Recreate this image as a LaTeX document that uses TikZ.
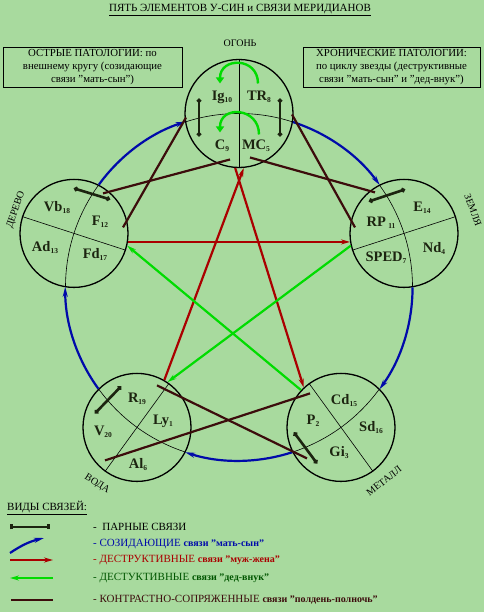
\documentclass[tikz,border=0pt]{standalone}
\usepackage{fontspec}
\setmainfont{Liberation Serif}
\usetikzlibrary{arrows.meta,calc}
\definecolor{bgg}{RGB}{168,218,158}
\definecolor{creat}{RGB}{0,10,170}
\definecolor{destr}{RGB}{170,0,0}
\definecolor{grand}{RGB}{0,220,0}
\definecolor{contr}{RGB}{60,12,12}
\definecolor{pairc}{RGB}{28,36,16}
\definecolor{txtg}{RGB}{0,85,0}
\newcommand\nsub[1]{\raisebox{-2pt}{\fontsize{7.5}{7.5}\selectfont #1}}
\newcommand\lowr[1]{{\fontsize{10}{10}\selectfont\bfseries #1}}

\begin{document}
\begin{tikzpicture}[x=1pt,y=1pt,
  elem/.style={circle,draw,line width=1.3pt,minimum size=108pt,inner sep=0pt},
  lab/.style={font=\fontsize{14.5}{14.5}\selectfont\bfseries,text=pairc,inner sep=0pt},
  side/.style={font=\fontsize{10}{10}\selectfont,inner sep=0pt},
  box/.style={draw,line width=0.8pt,minimum height=40pt,align=center,inner sep=0pt,font=\fontsize{10.8}{13}\selectfont},
  pairlink/.style={draw=pairc,line width=2.6pt,{Circle[length=4.5pt]}-{Circle[length=4.5pt]}},
  creatlink/.style={draw=creat,line width=2.2pt,-{Stealth[length=10pt,width=5pt]}},
  destrlink/.style={draw=destr,line width=2.2pt,-{Stealth[length=9pt,width=5pt]}},
  grandlink/.style={draw=grand,line width=2.2pt,-{Stealth[length=9pt,width=5pt]}},
  contrlink/.style={draw=contr,line width=2.2pt},
  turn/.style={draw=grand,line width=2.4pt,-{Triangle[length=6pt,width=8pt]}},
  leg/.style={anchor=west,inner sep=0pt,font=\fontsize{11}{11}\selectfont}]
\fill[bgg] (0,0) rectangle (484,612);
\useasboundingbox (0,0) rectangle (484,612);

% elements on the pentagon
\coordinate (o) at (239,325);
\node[elem] (fire) at (239,498.5) {};
\node[elem] (earth) at (404,378.6) {};
\node[elem] (metal) at (341,184.6) {};
\node[elem] (water) at (137,184.6) {};
\node[elem] (wood) at (74,378.6) {};

\begin{scope}
\clip (fire.center) circle (54) (earth.center) circle (54) (metal.center) circle (54)
      (water.center) circle (54) (wood.center) circle (54);
\draw[line width=0.6pt] (o) circle (173.5);
\end{scope}
\foreach \n/\a in {fire/90,earth/18,metal/-54,water/-126,wood/162}{
  \pgfmathtruncatemacro\b{\a+180}
  \draw[line width=0.6pt] (\n.\a) -- (\n.\b);
}

% mother-son cycle
\foreach \n/\a in {fire/90,earth/18,metal/-54,water/-126,wood/162}{
  \pgfmathtruncatemacro\b{\a-99}
  \draw[creatlink] (\n.\b) arc[start angle=\a-18,end angle=\a-54,radius=173.5];
}

% star
\draw[destrlink] (wood.-9) -- (earth.189);
\draw[destrlink] (fire.266) -- (metal.133);
\draw[destrlink] (water.60) -- (fire.275);
\draw[grandlink] (earth.193) -- (water.56);
\draw[grandlink] (metal.137) -- (wood.-13);

% noon-midnight
\draw[contrlink] ([shift={(29,40)}]wood.center) -- ([shift={(-9,-46)}]fire.center);
\draw[contrlink] ([shift={(49,6)}]wood.center) -- ([shift={(-53,-4)}]fire.center);
\draw[contrlink] ([shift={(11,-44)}]fire.center) -- ([shift={(-29,41)}]earth.center);
\draw[contrlink] ([shift={(53,-1)}]fire.center) -- ([shift={(-49,6)}]earth.center);
\draw[contrlink] ([shift={(20,42)}]water.center) -- ([shift={(-34,-31)}]metal.center);
\draw[contrlink] ([shift={(-32,-33)}]water.center) -- ([shift={(-31,34)}]metal.center);

% paired
\draw[pairlink] ([shift={(-40,15)}]fire.center) -- ([shift={(-40,-23)}]fire.center);
\draw[pairlink] ([shift={(41,15)}]fire.center) -- ([shift={(41,-23)}]fire.center);
\draw[pairlink] ([shift={(0,45)}]wood.center) -- ([shift={(36,34)}]wood.center);
\draw[pairlink] ([shift={(-35,32)}]earth.center) -- ([shift={(1,44)}]earth.center);
\draw[pairlink] ([shift={(-42,14)}]water.center) -- ([shift={(-16,41)}]water.center);
\draw[pairlink] ([shift={(-47,-5)}]metal.center) -- ([shift={(-24,-36)}]metal.center);
\draw[turn] ([shift={(19,30)}]fire.center) to[out=90,in=90,looseness=1.8] ([shift={(-19,30)}]fire.center);
\draw[turn] ([shift={(20,-21)}]fire.center) to[out=90,in=90,looseness=1.8] ([shift={(-19,-19)}]fire.center);

% meridians
\node[lab] (ig) at (222,515) {Ig\nsub{10}};
\node[lab] (tr) at (259,515) {TR\nsub{8}};
\node[lab] (c) at (222,466) {C\nsub{9}};
\node[lab] (mc) at (256,466) {MC\nsub{5}};
\node[lab] (vb) at (57,404) {Vb\nsub{18}};
\node[lab] (f) at (100,390) {F\nsub{12}};
\node[lab] (ad) at (45,364) {Ad\nsub{13}};
\node[lab] (fd) at (95,358) {Fd\nsub{17}};
\node[lab] (e) at (422,404) {E\nsub{14}};
\node[lab] (rp) at (381,389) {RP\,\nsub{11}};
\node[lab] (nd) at (434,364) {Nd\nsub{4}};
\node[lab] (sped) at (386,354) {SPED\nsub{7}};
\node[lab] (r) at (137,213) {R\nsub{19}};
\node[lab] (ly) at (163,191) {Ly\nsub{1}};
\node[lab] (v) at (103,180) {V\nsub{20}};
\node[lab] (al) at (138,147) {Al\nsub{6}};
\node[lab] (cd) at (344,211) {Cd\nsub{15}};
\node[lab] (p) at (313,191) {P\nsub{2}};
\node[lab] (sd) at (371,184) {Sd\nsub{16}};
\node[lab] (gi) at (339,159) {Gi\nsub{3}};

\node[side] (firen) at (240,569) {ОГОНЬ};
\node[side,rotate=71] (woodn) at (16,402) {ДЕРЕВО};
\node[side,rotate=-70] (earthn) at (473,402) {ЗЕМЛЯ};
\node[side,rotate=-32] (watern) at (97,128) {ВОДА};
\node[side,rotate=38] (metaln) at (384,131) {МЕТАЛЛ};

\node[inner sep=0pt,font=\fontsize{11}{11}\selectfont] (title) at (240,602) {\underline{ПЯТЬ ЭЛЕМЕНТОВ У-СИН и СВЯЗИ МЕРИДИАНОВ}};
\node[box,minimum width=179pt] (acute) at (92.5,545) {ОСТРЫЕ ПАТОЛОГИИ: по\\внешнему кругу (созидающие\\связи "мать-сын")};
\node[box,minimum width=177pt] (chron) at (391.5,545) {ХРОНИЧЕСКИЕ ПАТОЛОГИИ:\\по циклу звезды (деструктивные\\связи "мать-сын" и "дед-внук")};

% legend
\node[leg] (kinds) at (7,104) {\underline{ВИДЫ СВЯЗЕЙ:}};
\node[leg] (l1) at (93,85) {-\ \ ПАРНЫЕ СВЯЗИ};
\node[leg,text=creat] (l2) at (93,68) {- СОЗИДАЮЩИЕ \lowr{связи "мать-сын"}};
\node[leg,text=destr] (l3) at (93,52) {- ДЕСТРУКТИВНЫЕ \lowr{связи "муж-жена"}};
\node[leg,text=txtg] (l4) at (93,34) {- ДЕСТУКТИВНЫЕ \lowr{связи "дед-внук"}};
\node[leg,text=contr] (l5) at (93,12) {- КОНТРАСТНО-СОПРЯЖЕННЫЕ \lowr{связи "полдень-полночь"}};
\draw[pairlink,{Bar[width=5pt]}-{Bar[width=5pt]}] ([xshift=-83]l1.west) -- ([xshift=-43]l1.west);
\draw[creatlink] ([shift={(-83,-9)}]l2.west) to[bend left=10] ([shift={(-49,6)}]l2.west);
\draw[destrlink] ([xshift=-83]l3.west) -- ([xshift=-40]l3.west);
\draw[grandlink] ([xshift=-40]l4.west) -- ([xshift=-83]l4.west);
\draw[contrlink] ([xshift=-82]l5.west) -- ([xshift=-40]l5.west);
\end{tikzpicture}
\end{document}
